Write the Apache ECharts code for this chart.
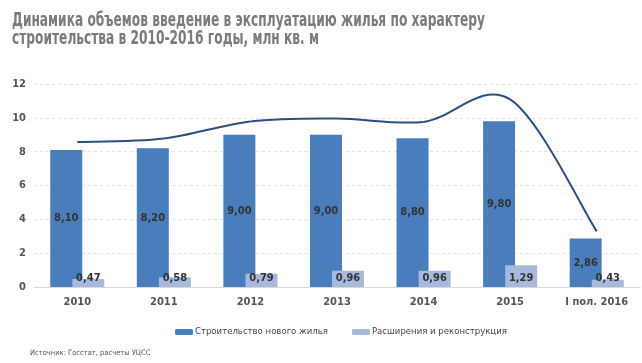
<!DOCTYPE html>
<html><head><meta charset="utf-8">
<script src="https://cdn.jsdelivr.net/npm/echarts@6/dist/echarts.min.js"></script>
<style>html,body{margin:0;padding:0;background:#fff}#c{width:642px;height:363px}</style>
</head><body><div id="c"></div>
<script>
const categories = ['2010','2011','2012','2013','2014','2015','I пол. 2016'];
const newHousing = [8.10, 8.20, 9.00, 9.00, 8.80, 9.80, 2.86];
const reconstruction = [0.47, 0.58, 0.79, 0.96, 0.96, 1.29, 0.43];
const totals = newHousing.map((v, i) => +(v + reconstruction[i]).toFixed(2));
const yTicks = [0, 2, 4, 6, 8, 10, 12];
const titleLines = ['Динамика объемов введение в эксплуатацию жилья по характеру',
                    'строительства в 2010-2016 годы, млн кв. м'];

const FONT = '"DejaVu Sans Condensed","Liberation Sans Narrow","Roboto",sans-serif';
const fmt = v => v.toFixed(2).replace('.', ',');

// horizontal compression so the title fits like the condensed original
const TITLE_FONT = 'bold 19px ' + FONT;
const mctx = document.createElement('canvas').getContext('2d');
mctx.font = TITLE_FONT;
const titleScale = 473 / mctx.measureText(titleLines[0]).width;

const chart = echarts.init(document.getElementById('c'));
chart.setOption({
  animation: false,
  textStyle: { fontFamily: FONT },
  grid: { left: 34, right: 2, top: 84, bottom: 76 },
  legend: {
    data: ['Строительство нового жилья', 'Расширения и реконструкция'],
    top: 322, left: 170,
    itemWidth: 18, itemHeight: 6, itemGap: 24,
    textStyle: { fontFamily: FONT, fontSize: 9.5, color: '#444', padding: [0, 0, 0, -3] }
  },
  graphic: [
    { type: 'text', x: 12, y: 21, scaleX: titleScale,
      style: { text: titleLines[0], font: TITLE_FONT, fill: '#7b7b7b', verticalAlign: 'middle' } },
    { type: 'text', x: 12, y: 39, scaleX: titleScale,
      style: { text: titleLines[1], font: TITLE_FONT, fill: '#7b7b7b', verticalAlign: 'middle' } },
    { type: 'text', x: 30, y: 353,
      style: { text: 'Источник: Госстат, расчеты УЦСС', font: '7.5px ' + FONT, fill: '#555', verticalAlign: 'middle' } }
  ],
  xAxis: {
    type: 'category', data: categories,
    axisLine: { lineStyle: { color: '#d9d9d9' } },
    axisTick: { show: false },
    axisLabel: { fontFamily: FONT, fontSize: 11, fontWeight: 'bold', color: '#555', margin: 10 }
  },
  yAxis: {
    type: 'value', min: 0, max: 12, interval: 2,
    axisLine: { show: false }, axisTick: { show: false },
    axisLabel: { fontFamily: FONT, fontSize: 11, fontWeight: 'bold', color: '#555', margin: 8,
      formatter: v => yTicks.includes(v) ? String(v) : '' },
    splitLine: { lineStyle: { color: '#e3e3e3', type: [3, 3] } }
  },
  series: [
    {
      name: 'Строительство нового жилья', type: 'bar', data: newHousing,
      barWidth: 32, barGap: '-31%',
      itemStyle: { color: '#4a7dbb' },
      label: { show: true, position: 'inside', formatter: p => fmt(p.value),
        fontFamily: FONT, fontSize: 11, fontWeight: 'bold', color: '#333' }
    },
    {
      name: 'Расширения и реконструкция', type: 'bar', data: reconstruction,
      barWidth: 32,
      itemStyle: { color: '#a7b9dc' },
      label: { show: true, position: 'insideBottom', distance: 3, formatter: p => fmt(p.value),
        fontFamily: FONT, fontSize: 11, fontWeight: 'bold', color: '#333' }
    },
    {
      name: 'Всего', type: 'custom', z: 5,
      data: totals.map((v, i) => [i, v]),
      encode: { x: 0, y: 1 },
      renderItem: (params, api) => {
        if (params.dataIndex !== 0) return null;
        const pts = totals.map((v, i) => api.coord([i, v]));
        const n = pts.length, children = [];
        for (let i = 0; i < n - 1; i++) {
          const p0 = pts[Math.max(i - 1, 0)], p1 = pts[i], p2 = pts[i + 1], p3 = pts[Math.min(i + 2, n - 1)];
          children.push({
            type: 'bezierCurve',
            shape: {
              x1: p1[0], y1: p1[1], x2: p2[0], y2: p2[1],
              cpx1: p1[0] + (p2[0] - p0[0]) / 6, cpy1: p1[1] + (p2[1] - p0[1]) / 6,
              cpx2: p2[0] - (p3[0] - p1[0]) / 6, cpy2: p2[1] - (p3[1] - p1[1]) / 6
            },
            style: { stroke: '#2b4f7e', lineWidth: 2, fill: null }
          });
        }
        return { type: 'group', children };
      }
    }
  ]
});
</script></body></html>
